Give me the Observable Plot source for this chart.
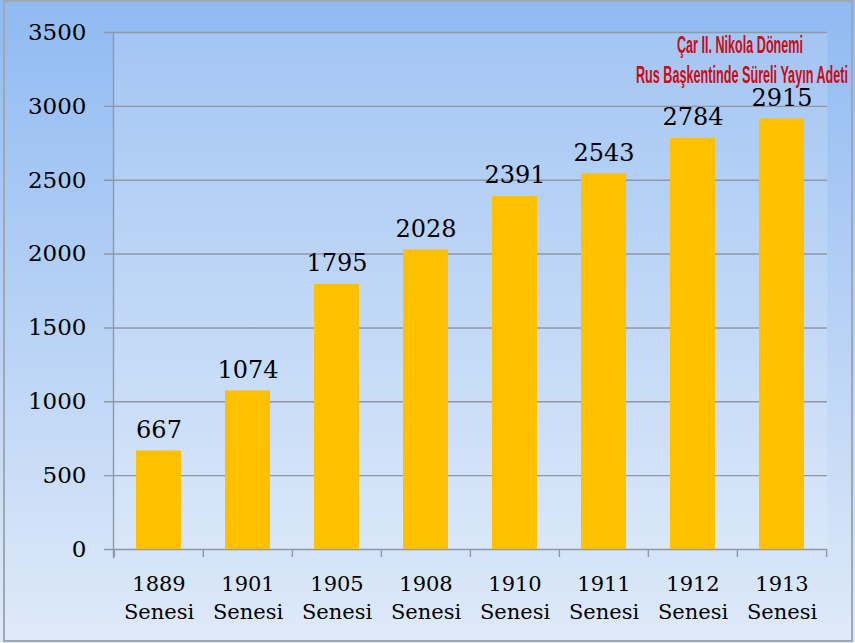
<!DOCTYPE html>
<html><head><meta charset="utf-8">
<script src="https://cdn.jsdelivr.net/npm/d3@7"></script>
<script src="https://cdn.jsdelivr.net/npm/@observablehq/plot@0.6"></script>
<style>
body{margin:0;}
#wrap{position:relative;width:855px;height:643px;background:linear-gradient(#90baf2,#dfeaf9);overflow:hidden;}
#border{position:absolute;left:3px;top:0;width:850px;height:642px;border:2px solid #a2a8b0;box-sizing:border-box;pointer-events:none;}
.tl{position:absolute;color:#cc0a14;font-family:"Liberation Sans",sans-serif;font-weight:bold;font-size:24px;line-height:30px;white-space:nowrap;transform-origin:center;}
svg{position:absolute;left:0;top:0;}
</style></head>
<body>
<div id="wrap"><div id="border"></div></div>
<script>
const years = ["1889","1901","1905","1908","1910","1911","1912","1913"];
const counts = [667,1074,1795,2028,2391,2543,2784,2915];
const yTicks = [0,500,1000,1500,2000,2500,3000,3500];
const suffix = "Senesi";
const titleLines = ["Çar II. Nikola Dönemi","Rus Başkentinde Süreli Yayın Adeti"];

const data = years.map((y,i)=>({year:y,count:counts[i]}));
const W=855,H=643,ML=113,MR=28,MT=32,MB=94;
const step=(W-ML-MR)/years.length;
const grid="#8f98a4";
const chart = Plot.plot({
  width:W,height:H,marginLeft:ML,marginRight:MR,marginTop:MT,marginBottom:MB,
  style:{background:"transparent",fontFamily:"DejaVu Serif",color:"black"},
  x:{domain:years,paddingInner:0.5,paddingOuter:0.25,axis:null},
  y:{domain:[0,3500],axis:null},
  marks:[
    Plot.frame({fill:"white",fillOpacity:0.15,stroke:null}),
    Plot.ruleY(yTicks,{y:d=>d,stroke:grid,strokeWidth:1.4,insetLeft:-9}),
    Plot.frame({anchor:"left",stroke:grid,strokeWidth:1.4,insetBottom:-8}),
    Plot.ruleX(years,{x:d=>d,dx:-step/2,stroke:grid,strokeWidth:1.4,insetTop:H-MT-MB,insetBottom:-8}),
    Plot.ruleX([years[years.length-1]],{x:d=>d,dx:step/2,stroke:grid,strokeWidth:1.4,insetTop:H-MT-MB,insetBottom:-8}),
    Plot.barY(data,{x:"year",y:"count",fill:"#FFC000"}),
    Plot.text(data,{x:"year",y:"count",text:d=>String(d.count),lineAnchor:"bottom",dy:-13,fontSize:24,fill:"black"}),
    Plot.text(yTicks,{y:d=>d,text:d=>String(d),frameAnchor:"left",textAnchor:"end",dx:-27,fontSize:23,fill:"black"}),
    Plot.text(years,{x:d=>d,frameAnchor:"bottom",lineAnchor:"top",dy:22,text:d=>d+"\n"+suffix,fontSize:21,lineHeight:1.33,fill:"black"})
  ]
});
const wrap=document.getElementById("wrap");
wrap.insertBefore(chart, wrap.firstChild);
const targets=[126,212];
const centers=[740,742];
const tops=[30,60];
titleLines.forEach((s,i)=>{
  const sp=document.createElement("span");
  sp.className="tl";
  sp.textContent=s;
  sp.style.left=centers[i]+"px";
  sp.style.top=tops[i]+"px";
  wrap.appendChild(sp);
  const w=sp.getBoundingClientRect().width;
  sp.style.transform="translateX(-50%) scaleX("+(targets[i]/w)+")";
});
</script>
</body></html>
